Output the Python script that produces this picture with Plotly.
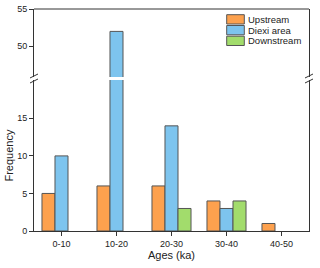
import plotly.graph_objects as go

categories = ["0-10", "10-20", "20-30", "30-40", "40-50"]
upstream = [5, 6, 6, 4, 1]
diexi = [10, 52, 14, 3, 0]
downstream = [0, 0, 3, 4, 0]
series_names = ["Upstream", "Diexi area", "Downstream"]
colors = ["#FDA14E", "#7DC4EE", "#A2DC6C"]

lower_range = [0, 20.1]
upper_range = [45.9, 55]
lower_ticks = [0, 5, 10, 15]
upper_ticks = [50, 55]

fig = go.Figure()
for name, vals, col in zip(series_names, [upstream, diexi, downstream], colors):
    shown = [v if v != 0 else None for v in vals]
    for ax in ("y", "y2"):
        fig.add_trace(go.Bar(
            x=categories, y=shown, name=name, yaxis=ax, showlegend=False,
            hoverinfo="skip",
            marker=dict(color=col, line=dict(color="#555555", width=1)),
        ))

font = "Arial, Liberation Sans, sans-serif"
lo_top = 0.680
up_bot = 0.694
axis_common = dict(showline=True, linecolor="#333", linewidth=1, ticks="outside",
                   ticklen=4, tickcolor="#333", showgrid=False, automargin=False)
fig.update_layout(
    width=320, height=268,
    margin=dict(l=34, r=11, t=9, b=37),
    paper_bgcolor="white", plot_bgcolor="white",
    barmode="group", bargap=0.29, bargroupgap=0,
    font=dict(family=font, size=9, color="#222"),
    showlegend=False,
    xaxis=dict(**axis_common,
               title=dict(text="Ages (ka)", font=dict(size=11), standoff=3),
               range=[-0.5, 4.5]),
    yaxis=dict(**axis_common, domain=[0, lo_top], range=lower_range,
               tickvals=lower_ticks, mirror=True, zeroline=False,
               title=dict(text="Frequency", font=dict(size=11), standoff=1)),
    yaxis2=dict(**axis_common, domain=[up_bot, 1], range=upper_range,
                tickvals=upper_ticks, mirror=True, zeroline=False, anchor="x"),
)

shapes = [dict(type="line", xref="paper", yref="paper", x0=0, x1=1, y0=1, y1=1,
               line=dict(color="#333", width=1))]
mid = (lo_top + up_bot) / 2
W, H = 275.0, 222.0
dx = 4 / W
dy = 2 / H
for xc in (0, 1):
    for off in (-2.5 / H, 2.5 / H):
        shapes.append(dict(type="line", xref="paper", yref="paper",
                           x0=xc - dx, x1=xc + dx,
                           y0=mid + off - dy, y1=mid + off + dy,
                           line=dict(color="#333", width=1)))

# custom compact legend
annotations = []
lx0 = (226.7 - 34) / W
lx1 = (244.3 - 34) / W
tops = [14.7, 25.5, 36.2]
for name, col, t in zip(series_names, colors, tops):
    y_top = 1 - (t - 9) / H
    y_bot = 1 - (t + 9.3 - 9) / H
    shapes.append(dict(type="rect", xref="paper", yref="paper",
                       x0=lx0, x1=lx1, y0=y_bot, y1=y_top,
                       fillcolor=col, line=dict(color="#555555", width=1)))
    annotations.append(dict(xref="paper", yref="paper", x=(246 - 34) / W,
                            y=(y_top + y_bot) / 2, xanchor="left", yanchor="middle",
                            text=name, showarrow=False, font=dict(size=9.5)))
fig.update_layout(shapes=shapes, annotations=annotations)

fig.write_html("out.html", config={"displayModeBar": False, "staticPlot": True})
with open("out.html", encoding="utf-8") as f:
    html = f.read()
html = html.replace("<head>", "<head><style>html,body{margin:0;padding:0;overflow:hidden;}</style>", 1)
with open("out.html", "w", encoding="utf-8") as f:
    f.write(html)
